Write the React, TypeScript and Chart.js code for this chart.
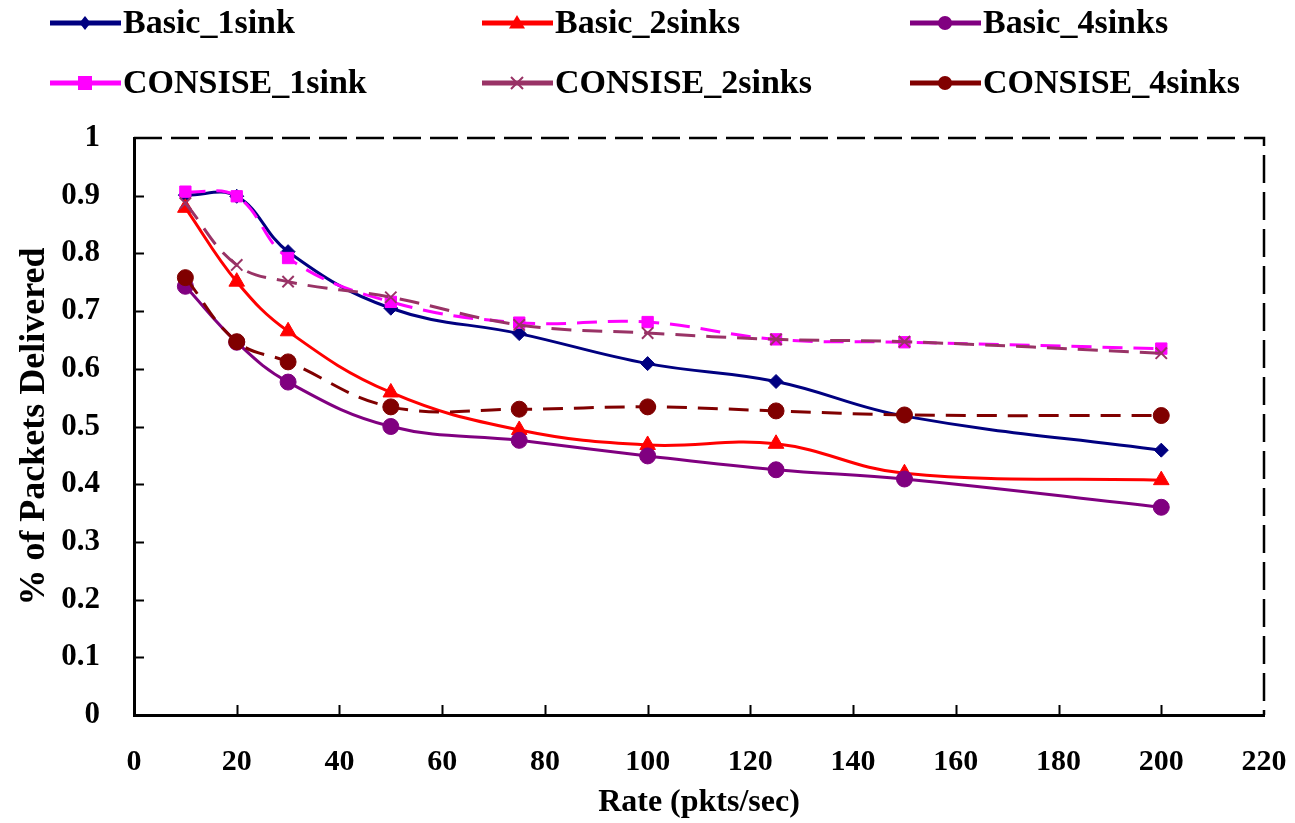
import React, { useEffect, useRef } from 'react';
import { Chart, registerables } from 'chart.js';

Chart.register(...registerables);

const rates = [10, 20, 30, 50, 75, 100, 125, 150, 200];
const basic1sink = [0.901, 0.899, 0.803, 0.705, 0.661, 0.609, 0.578, 0.518, 0.459];
const basic2sinks = [0.879, 0.751, 0.665, 0.559, 0.494, 0.468, 0.470, 0.419, 0.407];
const basic4sinks = [0.743, 0.646, 0.577, 0.500, 0.476, 0.449, 0.425, 0.409, 0.360];
const consise1sink = [0.907, 0.899, 0.792, 0.716, 0.680, 0.681, 0.651, 0.646, 0.635];
const consise2sinks = [0.887, 0.780, 0.751, 0.724, 0.676, 0.662, 0.651, 0.647, 0.627];
const consise4sinks = [0.758, 0.647, 0.612, 0.534, 0.530, 0.534, 0.527, 0.520, 0.519];

const seriesNames = ['Basic_1sink', 'Basic_2sinks', 'Basic_4sinks', 'CONSISE_1sink', 'CONSISE_2sinks', 'CONSISE_4sinks'];
const seriesValues = [basic1sink, basic2sinks, basic4sinks, consise1sink, consise2sinks, consise4sinks];
const seriesColors = ['#000080', '#FF0000', '#800080', '#FF00FF', '#993366', '#800000'];
const seriesMarkers = ['rectRot', 'triangle', 'circle', 'rect', 'crossRot', 'circle'];
const seriesDashed = [false, false, false, true, true, true];

const yTickLabels = ['0', '0.1', '0.2', '0.3', '0.4', '0.5', '0.6', '0.7', '0.8', '0.9', '1'];
const xTitle = 'Rate (pkts/sec)';
const yTitle = '% of Packets Delivered';

const FONT = "'Liberation Serif', 'Times New Roman', serif";

function drawMarker(ctx: CanvasRenderingContext2D, kind: string, x: number, y: number, color: string) {
  ctx.save();
  ctx.fillStyle = color;
  ctx.strokeStyle = color;
  ctx.lineWidth = 2;
  ctx.setLineDash([]);
  ctx.beginPath();
  if (kind === 'rectRot') {
    const r = 7;
    ctx.moveTo(x, y - r); ctx.lineTo(x + r * 0.8, y); ctx.lineTo(x, y + r); ctx.lineTo(x - r * 0.8, y); ctx.closePath(); ctx.fill();
  } else if (kind === 'triangle') {
    const r = 8;
    ctx.moveTo(x, y - r); ctx.lineTo(x + r, y + r * 0.7); ctx.lineTo(x - r, y + r * 0.7); ctx.closePath(); ctx.fill();
  } else if (kind === 'rect') {
    ctx.rect(x - 7, y - 7, 14, 14); ctx.fill();
  } else if (kind === 'crossRot') {
    const r = 6;
    ctx.moveTo(x - r, y - r); ctx.lineTo(x + r, y + r); ctx.moveTo(x + r, y - r); ctx.lineTo(x - r, y + r); ctx.stroke();
  } else {
    ctx.arc(x, y, 7, 0, Math.PI * 2); ctx.fill();
  }
  ctx.restore();
}

const legendPlugin = {
  id: 'customLegend',
  afterDraw(chart: any) {
    const ctx: CanvasRenderingContext2D = chart.ctx;
    const cols = [50, 482, 910];
    const rows = [23, 83];
    ctx.save();
    seriesNames.forEach((name, i) => {
      const x0 = cols[i % 3];
      const y0 = rows[Math.floor(i / 3)];
      ctx.strokeStyle = seriesColors[i];
      ctx.lineWidth = 5;
      ctx.setLineDash([]);
      ctx.beginPath();
      ctx.moveTo(x0, y0);
      ctx.lineTo(x0 + 71, y0);
      ctx.stroke();
      drawMarker(ctx, seriesMarkers[i], x0 + 35, y0, seriesColors[i]);
      ctx.fillStyle = '#000';
      ctx.font = `bold 34px ${FONT}`;
      ctx.textAlign = 'left';
      ctx.textBaseline = 'middle';
      ctx.fillText(name, x0 + 73, y0 + 1);
    });
    ctx.restore();
  },
};

const framePlugin = {
  id: 'frame',
  beforeDatasetsDraw(chart: any) {
    const ctx: CanvasRenderingContext2D = chart.ctx;
    const { left, right, top, bottom } = chart.chartArea;
    const xs = chart.scales.x;
    const ys = chart.scales.y;
    ctx.save();
    ctx.strokeStyle = '#000';
    ctx.lineWidth = 2.5;
    ctx.setLineDash([28, 9]);
    ctx.beginPath();
    ctx.moveTo(left, top);
    ctx.lineTo(right, top);
    ctx.lineTo(right, bottom);
    ctx.stroke();
    ctx.setLineDash([]);
    ctx.lineWidth = 2;
    ctx.beginPath();
    xs.ticks.forEach((t: any) => {
      if (t.value > xs.min && t.value < xs.max) {
        const px = Math.round(xs.getPixelForValue(t.value)) + 0.5;
        ctx.moveTo(px, bottom);
        ctx.lineTo(px, bottom - 10);
      }
    });
    ys.ticks.forEach((t: any) => {
      if (t.value > ys.min && t.value < ys.max) {
        const py = Math.round(ys.getPixelForValue(t.value)) + 0.5;
        ctx.moveTo(left, py);
        ctx.lineTo(left + 10, py);
      }
    });
    ctx.stroke();
    ctx.restore();
  },
};

export default function App() {
  const canvasRef = useRef<HTMLCanvasElement>(null);

  useEffect(() => {
    if (!canvasRef.current) return;
    const datasets = seriesNames.map((name, i) => ({
      label: name,
      data: rates.map((r, j) => ({ x: r, y: seriesValues[i][j] })),
      borderColor: seriesColors[i],
      backgroundColor: seriesColors[i],
      pointBackgroundColor: seriesColors[i],
      pointBorderColor: seriesColors[i],
      pointBorderWidth: seriesMarkers[i] === 'crossRot' ? 2 : 1,
      pointStyle: seriesMarkers[i],
      pointRadius: seriesMarkers[i] === 'rectRot' ? 7 : seriesMarkers[i] === 'triangle' ? 9 : 8,
      borderWidth: 3,
      borderDash: seriesDashed[i] ? [20, 11] : [],
      tension: 0.4,
      fill: false,
      order: seriesNames.length - i,
    }));

    const chart = new Chart(canvasRef.current, {
      type: 'line',
      data: { datasets },
      options: {
        animation: false,
        responsive: false,
        devicePixelRatio: 1,
        layout: { padding: { top: 138, right: 31, left: 0, bottom: 0 } },
        plugins: {
          legend: { display: false },
          tooltip: { enabled: false },
        },
        scales: {
          x: {
            type: 'linear',
            min: 0,
            max: 220,
            afterFit: (scale: any) => {
              scale.height = 108;
              scale.paddingRight = 0;
              scale.paddingLeft = 0;
            },
            ticks: {
              stepSize: 20,
              color: '#000',
              padding: 21,
              maxRotation: 0,
              font: { family: FONT, size: 30, weight: 'bold' },
            },
            grid: { display: false },
            border: { display: true, color: '#000', width: 3 },
            title: {
              display: true,
              text: xTitle,
              color: '#000',
              padding: { top: 0, bottom: 1 },
              font: { family: FONT, size: 32, weight: 'bold' },
            },
          },
          y: {
            type: 'linear',
            min: 0,
            max: 1,
            afterFit: (scale: any) => {
              scale.width = 134;
              scale.paddingTop = 0;
              scale.paddingBottom = 0;
            },
            ticks: {
              stepSize: 0.1,
              color: '#000',
              padding: 26,
              font: { family: FONT, size: 31, weight: 'bold' },
              callback: (_v: any, idx: number) => yTickLabels[idx],
            },
            grid: { display: false },
            border: { display: true, color: '#000', width: 3 },
            title: {
              display: true,
              text: yTitle,
              color: '#000',
              padding: { top: 13, bottom: 0 },
              font: { family: FONT, size: 36, weight: 'bold' },
            },
          },
        },
      } as any,
      plugins: [framePlugin, legendPlugin],
    });
    return () => chart.destroy();
  }, []);

  return (
    <div style={{ position: 'absolute', left: 0, top: 0, width: 1295, height: 823, background: '#fff' }}>
      <canvas ref={canvasRef} width={1295} height={823} />
    </div>
  );
}
